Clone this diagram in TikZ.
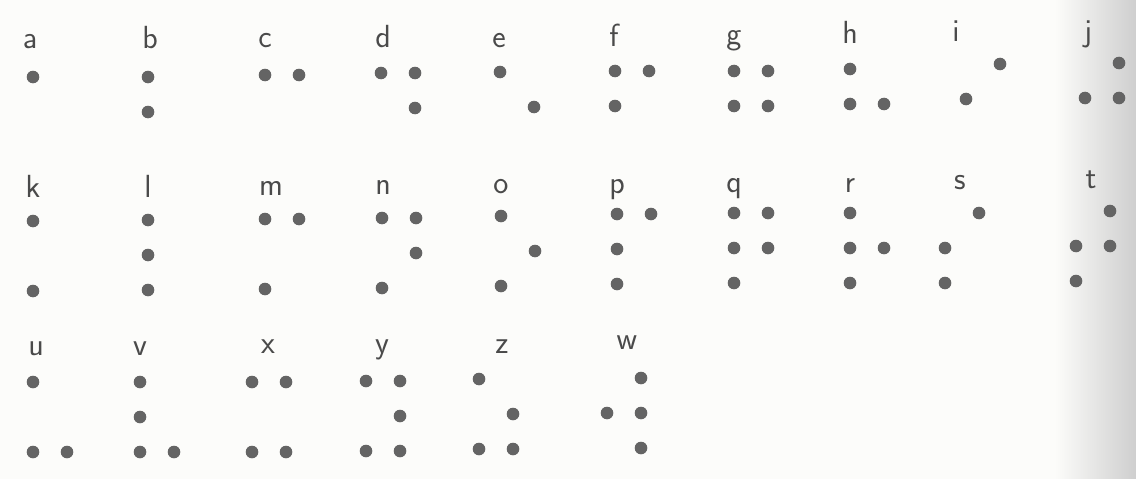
\documentclass[tikz,border=0pt]{standalone}
\usepackage{fontspec}

\definecolor{paper}{HTML}{FCFCFA}
\definecolor{ink}{HTML}{4A4A4A}
\definecolor{dotgray}{HTML}{646464}

\begin{document}
\begin{tikzpicture}[x=1pt, y=-1pt,
    letter/.style={anchor=base, inner sep=0pt, text=ink,
      font=\sffamily\fontsize{32}{36}\selectfont},
    dot/.style={circle, fill=dotgray, inner sep=0pt, minimum size=12.6pt}]
  % Page
  \useasboundingbox (0,0) rectangle (1136,479);
  \fill[paper] (0,0) rectangle (1136,479);
  \shade[left color=paper, right color=gray!38] (1055,0) rectangle (1136,479);

  % Braille cells: letter / cell x / cell y / label x / label baseline / raised dots
  \foreach \c/\cx/\cy/\lx/\ly/\pts in {
      a/33/77/30/48/{1}, b/148/77/150/48/{1,2}, c/265/75/265/47/{1,4},
      d/381/73/383/47/{1,4,5}, e/500/72/499/47/{1,5}, f/615/71/614/46/{1,2,4},
      g/734/71/734/45/{1,2,4,5}, h/850/69/850/43/{1,2,5}, i/966/64/956/41/{2,4},
      j/1085/63/1088/41/{2,4,5},
      k/33/221/33/197/{1,3}, l/148/220/148/197/{1,2,3}, m/265/219/271/195/{1,3,4},
      n/382/218/383/194/{1,3,4,5}, o/501/216/501/193/{1,3,5},
      p/617/214/617/193/{1,2,3,4}, q/734/213/734/192/{1,2,3,4,5},
      r/850/213/850/192/{1,2,3,5}, s/945/213/960/189/{2,3,4},
      t/1076/211/1091/188/{2,3,4,5},
      u/33/382/36/355/{1,3,6}, v/140/382/140/355/{1,2,3,6},
      x/252/382/268/353/{1,3,4,6}, y/366/381/382/353/{1,3,4,5,6},
      z/479/379/502/353/{1,3,5,6}, w/607/378/627/349/{2,4,5,6}} {
    \node[letter] (lbl-\c) at (\lx,\ly) {\c};
    \foreach \d in \pts {
      \pgfmathtruncatemacro\col{\d>3}
      \pgfmathtruncatemacro\row{mod(\d-1,3)}
      \node[dot] (\c-\d) at ({\cx+\col*34},{\cy+\row*35}) {};
    }
  }
\end{tikzpicture}
\end{document}
